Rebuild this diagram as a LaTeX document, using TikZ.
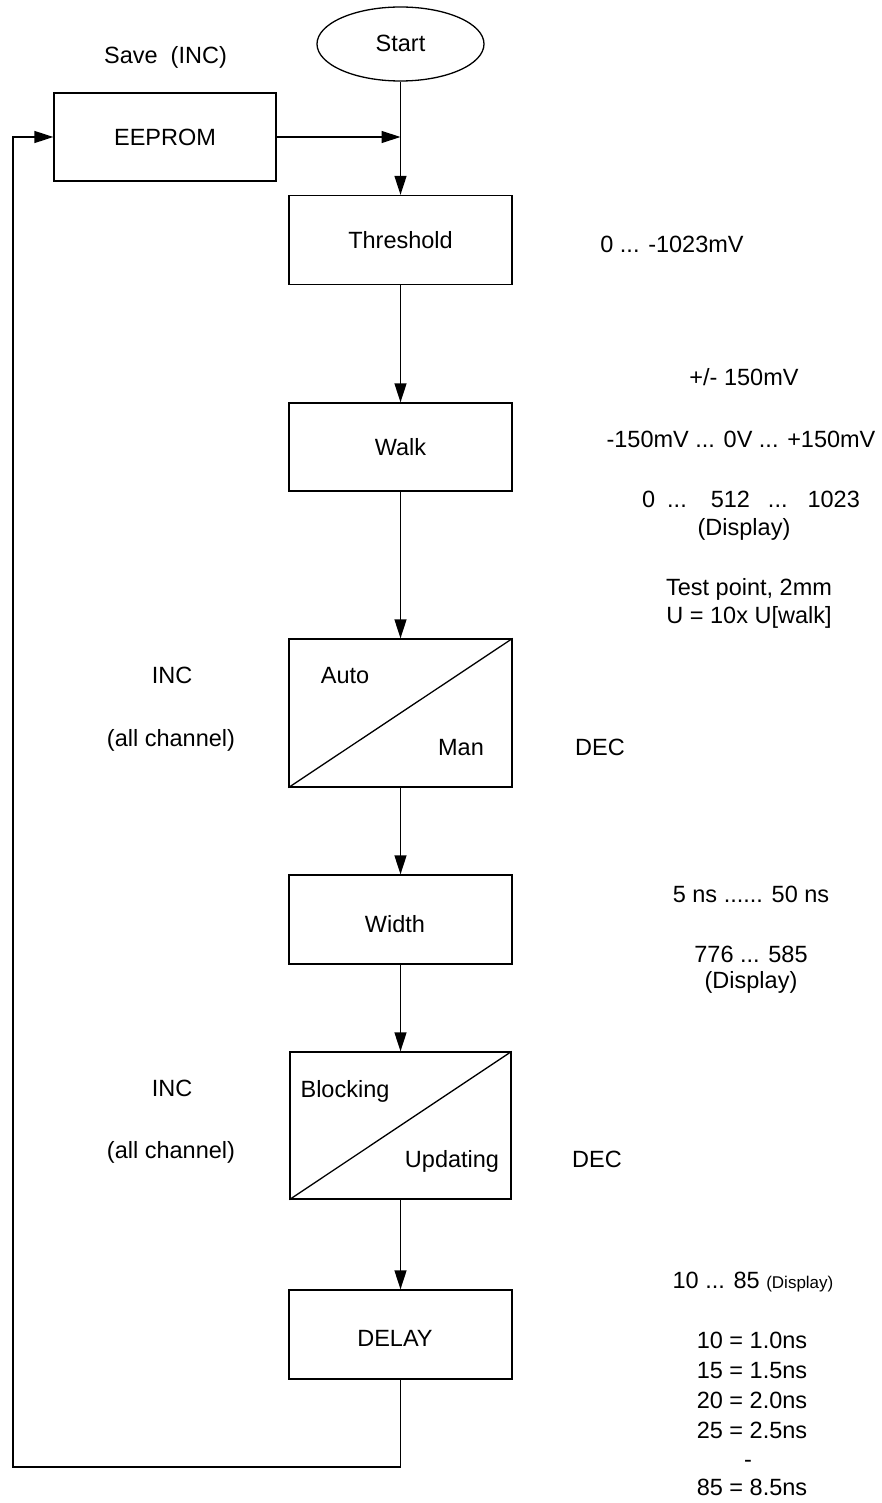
\documentclass[tikz,border=0pt]{standalone}
\usepackage{fontspec}
\setmainfont{Liberation Sans}
\usetikzlibrary{arrows.meta,shapes.geometric}
\begin{document}
\begin{tikzpicture}[x=1pt,y=-1pt,
  every node/.style={font=\fontsize{23.5}{28}\selectfont},
  box/.style={draw=black,line width=1.3pt,rectangle,inner sep=0pt,minimum width=223pt,minimum height=89pt},
  txt/.style={inner sep=0pt,anchor=base},
  arr/.style={line width=1.3pt,-{Triangle[length=19pt,width=12pt]}},
  ln/.style={line width=1.3pt}]
\useasboundingbox (0,0) rectangle (881,1503);

% shapes
\node[draw=black,line width=1.3pt,ellipse,inner sep=0pt,minimum width=167pt,minimum height=74pt] (start) at (400.5,44) {};
\node[txt] (startlbl) at (400.5,52) {Start};
\node[box,minimum width=222pt,minimum height=88pt] (ee) at (165,137) {EEPROM};
\node[box] (thr) at (400.5,240) {Threshold};
\node[box,minimum height=88pt] (walk) at (400.5,447) {Walk};
\node[box,minimum height=148pt] (auto) at (400.5,713) {};
\node[box] (wid) at (400.5,919.5) {};
\node[txt] (widlbl) at (395,932) {Width};
\node[box,minimum width=221pt,minimum height=147pt] (block) at (400.5,1125.5) {};
\node[box] (delay) at (400.5,1334.5) {};
\node[txt] (delaylbl) at (395,1346) {DELAY};

\draw[ln] (auto.south west) -- (auto.north east);
\draw[ln] (block.south west) -- (block.north east);

% connectors
\coordinate (join) at (400.5,137);
\coordinate (fb) at (13,1467);
\draw[arr] (start.south) -- (thr.north);
\draw[arr] (ee.east) -- (join);
\draw[arr] (thr.south) -- (walk.north);
\draw[arr] (walk.south) -- (auto.north);
\draw[arr] (auto.south) -- (wid.north);
\draw[arr] (wid.south) -- (block.north);
\draw[arr] (block.south) -- (delay.north);
\draw[arr] (delay.south) |- (fb) |- (ee.west);

% labels
\node[txt] (save) at (165.5,64) {Save\ \ (INC)};
\node[txt] (r1) at (672,253) {0 ... -1023mV};
\node[txt] (r2) at (744,385) {+/- 150mV};
\node[txt] (r3) at (741,447) {-150mV ... 0V ... +150mV};
\node[txt] (r4) at (751,507) {0\hspace{12pt}...\hspace{24pt}512\hspace{18pt}...\hspace{20pt}1023};
\node[txt] (r5) at (744,535) {(Display)};
\node[txt] (r6) at (749,595) {Test point, 2mm};
\node[txt] (r7) at (749,623) {U = 10x U[walk]};

\node[txt] (inc1) at (172,683) {INC};
\node[txt] (all1) at (171,746) {(all channel)};
\node[txt] (dec1) at (600,755) {DEC};
\node[txt] (autol) at (345,683) {Auto};
\node[txt] (manl) at (461,755) {Man};

\node[txt] (w1) at (751,902) {5 ns ...... 50 ns};
\node[txt] (w2) at (751,962) {776 ... 585};
\node[txt] (w3) at (751,988) {(Display)};

\node[txt] (inc2) at (172,1096) {INC};
\node[txt] (all2) at (171,1158) {(all channel)};
\node[txt] (dec2) at (597,1167) {DEC};
\node[txt] (blockl) at (345,1097) {Blocking};
\node[txt] (updl) at (452,1167) {Updating};

\node[txt] (d0) at (753,1288) {10 ... 85 {\fontsize{17}{20}\selectfont(Display)}};
\node[txt] (d1) at (752,1348) {10 = 1.0ns};
\node[txt] (d2) at (752,1378) {15 = 1.5ns};
\node[txt] (d3) at (752,1408) {20 = 2.0ns};
\node[txt] (d4) at (752,1438) {25 = 2.5ns};
\node[txt] (d5) at (748,1467) {-};
\node[txt] (d6) at (752,1495) {85 = 8.5ns};
\end{tikzpicture}
\end{document}
